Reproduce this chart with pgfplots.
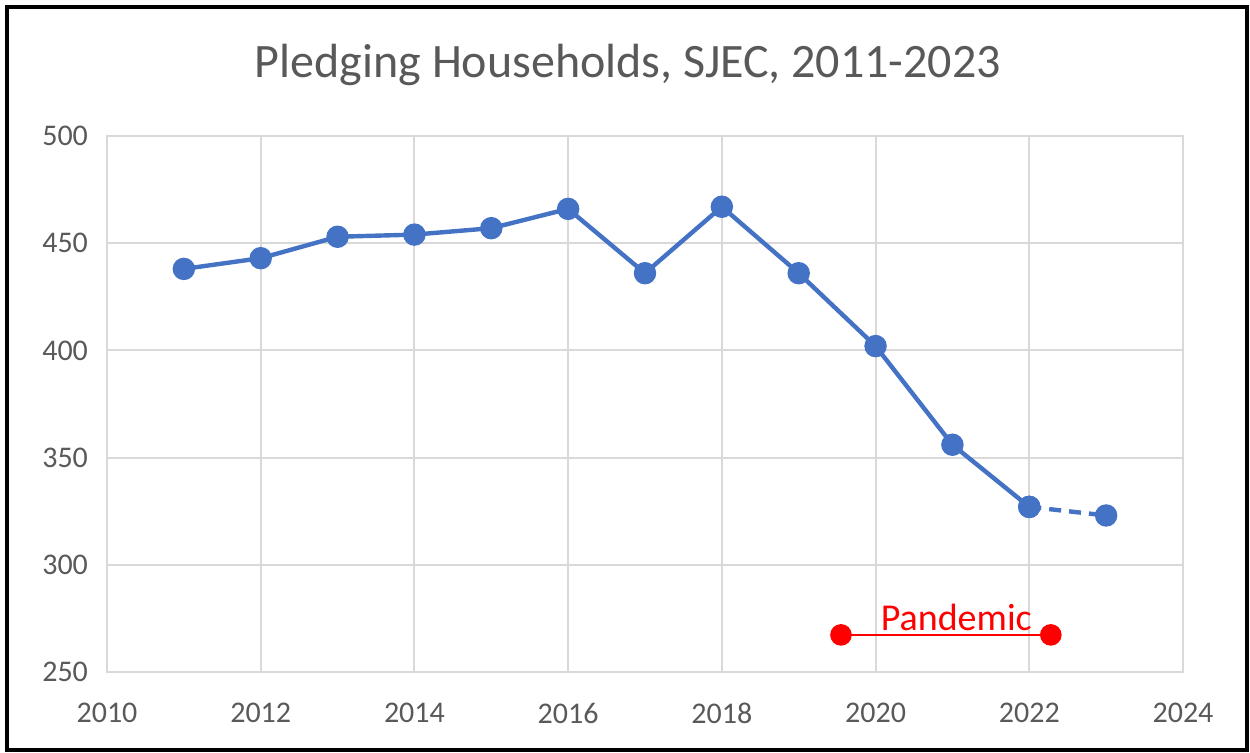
\documentclass[border=0pt]{standalone}
\usepackage{pgfplots}
\pgfplotsset{compat=1.18}
\usepackage{fontspec}
\setmainfont{Carlito}
\definecolor{sblue}{HTML}{4472C4}
\definecolor{sgrid}{HTML}{D9D9D9}
\definecolor{stext}{HTML}{595959}
\definecolor{sred}{HTML}{FF0000}
\begin{document}
\begin{tikzpicture}
\useasboundingbox (0,0) rectangle (625pt,376.5pt);
\draw[line width=2pt,black] (3.5pt,1.5pt) rectangle (623.5pt,373pt);
\node[text=stext,font=\fontsize{24}{28}\selectfont] at (314pt,344pt) {Pledging Households, SJEC, 2011-2023};
\begin{axis}[
  at={(53.5pt,40.5pt)}, anchor=south west,
  scale only axis, width=538pt, height=268pt,
  xmin=2010, xmax=2024, ymin=250, ymax=500,
  xtick={2010,2012,...,2024}, ytick={250,300,...,500},
  grid=major, major grid style={sgrid,line width=1pt},
  axis line style={sgrid,line width=1pt},
  tick style={draw=none},
  /pgf/number format/assume math mode=true,
  /pgf/number format/1000 sep={},
  ticklabel style={text=stext,font=\fontsize{15}{17}\selectfont},
  xticklabel style={yshift=-12pt},
  yticklabel style={xshift=-6pt},
  clip=false,
]
\addplot[sblue,line width=2.2pt,mark=*,mark size=4.5pt,mark options={fill=sblue,draw=sblue}]
  coordinates {(2011,438) (2012,443) (2013,453) (2014,454) (2015,457) (2016,466) (2017,436) (2018,467) (2019,436) (2020,402) (2021,356) (2022,327)};
\addplot[sblue,line width=2.2pt,dash pattern=on 6pt off 4pt,mark=*,mark size=4.5pt,mark options={fill=sblue,draw=sblue,solid}]
  coordinates {(2022,327) (2023,323)};
\addplot[sred,line width=0.8pt,mark=*,mark size=5pt,mark options={fill=sred,draw=sred}]
  coordinates {(2019.55,267.3) (2022.28,267.3)};
\node[text=sred,font=\fontsize{19}{21}\selectfont] at (axis cs:2021.05,275.3) {Pandemic};
\end{axis}
\end{tikzpicture}
\end{document}
